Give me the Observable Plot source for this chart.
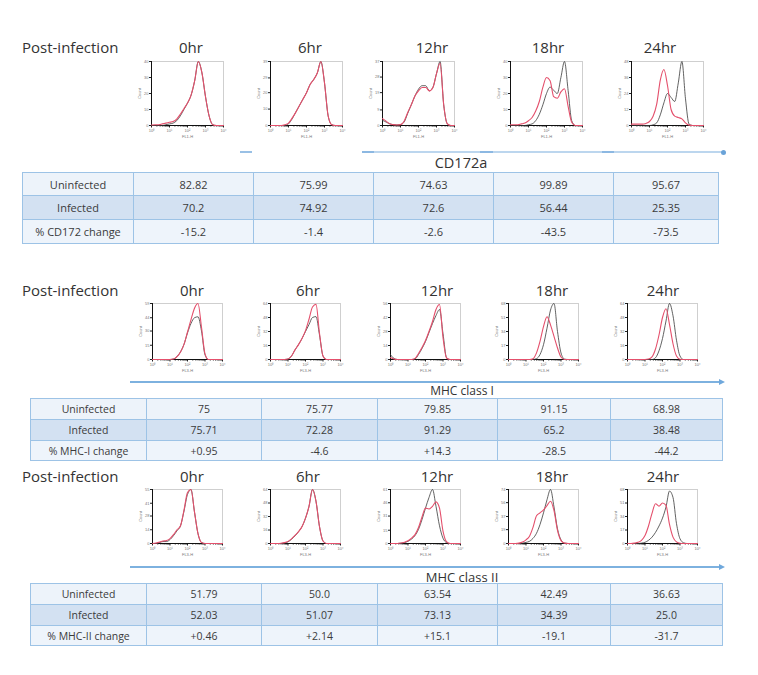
<!DOCTYPE html>
<html><head><meta charset="utf-8">
<script src="https://cdn.jsdelivr.net/npm/d3@7"></script>
<script src="https://cdn.jsdelivr.net/npm/@observablehq/plot@0.6"></script>
<style>
body{margin:0;background:#fff;}
#page{position:relative;width:758px;height:675px;overflow:hidden;font-family:"Open Sans",sans-serif;color:#333;}
.txt{position:absolute;white-space:nowrap;line-height:1;}
table{position:absolute;border-collapse:collapse;table-layout:fixed;font-family:"Open Sans",sans-serif;color:#3b3b3b;}
td{border:1px solid #9dc3e6;text-align:center;padding:0;box-sizing:border-box;}
svg{position:absolute;overflow:visible;}
</style></head><body><div id="page"></div>
<script>
// ---------- data ----------
const times = ["0hr","6hr","12hr","18hr","24hr"];
const cd172Labels = ["Uninfected","Infected","% CD172 change"];
const cd172Uninfected = ["82.82","75.99","74.63","99.89","95.67"];
const cd172Infected = ["70.2","74.92","72.6","56.44","25.35"];
const cd172Change = ["-15.2","-1.4","-2.6","-43.5","-73.5"];
const mhc1Labels = ["Uninfected","Infected","% MHC-I change"];
const mhc1Uninfected = ["75","75.77","79.85","91.15","68.98"];
const mhc1Infected = ["75.71","72.28","91.29","65.2","38.48"];
const mhc1Change = ["+0.95","-4.6","+14.3","-28.5","-44.2"];
const mhc2Labels = ["Uninfected","Infected","% MHC-II change"];
const mhc2Uninfected = ["51.79","50.0","63.54","42.49","36.63"];
const mhc2Infected = ["52.03","51.07","73.13","34.39","25.0"];
const mhc2Change = ["+0.46","+2.14","+15.1","-19.1","-31.7"];

// histogram x positions (log10 decades of fluorescence)
const logDecades = [0,0.2,0.4,0.6,0.8,1.0,1.2,1.4,1.6,1.8,2.0,2.2,2.4,2.6,2.8,3.0,3.2,3.4,3.6,3.8,4.0];
const decadeTicks = [0,1,2,3,4];

// y-axis ticks per histogram
const cd172YTicks = [[0,10,20,30,40],[0,10,20,29,39],[0,9,19,28,37],[0,10,20,30,40],[0,12,24,36,48]];
const mhc1YTicks  = [[0,15,30,44,59],[0,16,32,48,64],[0,14,28,42,56],[0,17,34,51,68],[0,16,32,48,64]];
const mhc2YTicks  = [[0,14,28,41,55],[0,16,32,48,64],[0,15,31,46,61],[0,19,37,56,74],[0,17,34,51,68]];

// CD172a (FL1-H) counts: uninfected (black) / infected (red)
const cd172Hist0U  = [0,0,0,0,0.5,1,1.5,3,6,10,14,19,28,40,33,18,6,0.5,0,0,0];
const cd172Hist0I  = [0.3,0.5,0.5,1,1.5,2,2.5,4,7,10.5,14,19,28,40,33,18,6,0.5,0,0,0];
const cd172Hist6U  = [0,0,0,0,0,1,4,8,12,16,20,25,28,32,39,26,6,0.5,0,0,0];
const cd172Hist6I  = [0,0,0,0,0.5,1.5,4.5,8,12,16,20,25,28,32,39,26,6,0.5,0,0,0];
const cd172Hist12U = [3,2,1,0.5,0.3,0.5,2,7,12,17,21,23,23,20,22,30,37,12,1,0,0];
const cd172Hist12I = [4,2.5,1,0.5,0.3,0.5,2.5,7.5,12,17,20,22,22,20,22,30,36,12,1,0,0];
const cd172Hist18U = [0,0,0,0,0,0.5,1,3,7,13,20,24,22,20,30,40,22,3,0,0,0];
const cd172Hist18I = [0.5,0.5,0.5,1,1.5,3,5,9,15,24,30,28,18,17,21,23,12,2,0,0,0];
const cd172Hist24U = [0,0,0,0,0,0,0.5,2,8,17,24,21,18,32,48,20,1,0,0,0,0];
const cd172Hist24I = [1,1,1,1,1.5,3,7,16,34,42,30,12,7,6,5,2,0.3,0,0,0,0];

// MHC class I (FL3-H)
const mhc1Hist0U  = [0,0,0,0,0,0,0.5,3,8,16,28,38,44,45,30,5,0,0,0,0,0];
const mhc1Hist0I  = [0,0,0,0,0,0,0.5,3,8,16,29,42,54,59,34,6,0,0,0,0,0];
const mhc1Hist6U  = [0,0,0,0,0,0.5,4,11,17,24,32,40,48,49,28,4,0,0,0,0,0];
const mhc1Hist6I  = [0,0,0,0,0,0.5,4,11,17,24,33,46,60,63,30,4,0,0,0,0,0];
const mhc1Hist12U = [5,1,0,0,0,0,0,0.5,5,11,18,27,36,44,50,26,2,0,0,0,0];
const mhc1Hist12I = [2,0.5,0,0,0,0,0,1,6,12,19,28,38,50,55,22,1.5,0,0,0,0];
const mhc1Hist18U = [0,0,0,0,0,0,0,0,1,6,18,38,60,68,34,8,0.5,0,0,0,0];
const mhc1Hist18I = [0,0,0,0,0,0,0,1,8,22,40,52,42,28,14,3,0,0,0,0,0];
const mhc1Hist24U = [0,0,0,0,0,0,0,0,2,10,24,44,64,50,22,4,0,0,0,0,0];
const mhc1Hist24I = [0,0,0,0,0,0,0.5,3,12,28,48,58,40,18,4,0.3,0,0,0,0,0];

// MHC class II (FL3-H)
const mhc2Hist0U  = [0,0,1,2,2,4,8,13,18,33,50,55,32,10,1,0,0,0,0,0,0];
const mhc2Hist0I  = [0,0.5,1.5,2.5,3,5,9,14,18,34,52,55,32,10,1,0,0,0,0,0,0];
const mhc2Hist6U  = [0,0,0,0,0.5,2,5,9,14,20,30,44,64,50,20,3,0,0,0,0,0];
const mhc2Hist6I  = [0,0,0,0.3,1,2.5,5.5,9.5,14,20,30,44,64,50,20,3,0,0,0,0,0];
const mhc2Hist12U = [0,0,0,0.3,1,2.5,5,9,16,27,40,52,61,42,20,6,1,0,0,0,0];
const mhc2Hist12I = [0,0,0,0.5,1.5,3,6,10,18,30,40,39,42,47,40,14,2,0,0,0,0];
const mhc2Hist18U = [0,0,0,0,0.5,1.5,3,7,14,26,42,60,74,50,20,5,0.5,0,0,0,0];
const mhc2Hist18I = [0,0,0,0.5,2,5,10,22,38,42,46,52,58,45,18,4,0.5,0,0,0,0];
const mhc2Hist24U = [0,0,0,0,0.5,1.5,4,8,14,22,32,46,66,58,25,6,1,0,0,0,0];
const mhc2Hist24I = [0,0,0.5,1.5,4,10,22,38,50,47,51,48,24,8,2,0.3,0,0,0,0,0];

// ---------- layout helpers ----------
const page = document.getElementById("page");
const sup = ["\u2070","\u00b9","\u00b2","\u00b3","\u2074"];
const minorTicks = decadeTicks.slice(0,4).flatMap(n => [2,3,4,5,6,7,8,9].map(k => n + Math.log10(k)));

function text(str, x, y, size, anchor = "middle", extra = {}) {
  const d = document.createElement("div");
  d.className = "txt";
  d.textContent = str;
  d.style.fontSize = size + "px";
  d.style.left = x + "px";
  d.style.top = y + "px";
  d.style.transform = anchor === "middle" ? "translate(-50%,-50%)" : "translate(0,-50%)";
  Object.assign(d.style, extra);
  page.appendChild(d);
}

function histogram(unin, inf, yTicks, xLabel, left, top, w, h) {
  const ymax = yTicks[yTicks.length - 1];
  const u = logDecades.map((x, i) => ({x, y: unin[i]}));
  const f = logDecades.map((x, i) => ({x, y: inf[i]}));
  const ml = 18, mt = 3;
  const svg = Plot.plot({
    width: w + ml + 6, height: h + mt + 17,
    marginLeft: ml, marginRight: 6, marginTop: mt, marginBottom: 17,
    style: {fontFamily: "Liberation Sans, sans-serif", fontSize: "4px", color: "#777", background: "transparent", overflow: "visible"},
    x: {domain: [0, 4]},
    y: {domain: [0, ymax]},
    marks: [
      Plot.frame({stroke: "#c4c4c4", strokeWidth: 0.8}),
      Plot.axisX({ticks: minorTicks, tickSize: 1.5, tickFormat: () => "", label: null, stroke: "#222"}),
      Plot.axisX({ticks: decadeTicks, tickSize: 2.5, tickPadding: 1, tickFormat: d => "10" + sup[d], label: xLabel, labelAnchor: "center", labelOffset: 12, labelArrow: "none", stroke: "#222"}),
      Plot.axisY({ticks: yTicks, tickSize: 2, tickPadding: 1, label: "Count", labelAnchor: "center", labelOffset: 13, labelArrow: "none", stroke: "#222"}),
      Plot.ruleY([0], {stroke: "#111", strokeWidth: 1}),
      Plot.ruleX([0], {stroke: "#111", strokeWidth: 1}),
      Plot.line(u, {x: "x", y: "y", stroke: "#3a3a3a", strokeWidth: 0.8, curve: "monotone-x"}),
      Plot.line(f, {x: "x", y: "y", stroke: "#e4506c", strokeWidth: 1.1, curve: "monotone-x"})
    ]
  });
  svg.style.left = (left - ml) + "px";
  svg.style.top = (top - mt) + "px";
  page.appendChild(svg);
}

function hline(x1, x2, y, color, thick, opacity = 1) {
  const d = document.createElement("div");
  Object.assign(d.style, {position: "absolute", left: x1 + "px", top: (y - thick / 2) + "px", width: (x2 - x1) + "px", height: thick + "px", background: color, opacity});
  page.appendChild(d);
}
function arrowHead(x, y, color) {
  const d = document.createElement("div");
  Object.assign(d.style, {position: "absolute", left: (x - 5) + "px", top: (y - 3) + "px", width: 0, height: 0,
    borderTop: "3px solid transparent", borderBottom: "3px solid transparent", borderLeft: "6px solid " + color});
  page.appendChild(d);
}
function dot(x, y, color) {
  const d = document.createElement("div");
  Object.assign(d.style, {position: "absolute", left: (x - 2.5) + "px", top: (y - 2.5) + "px", width: "5px", height: "5px", borderRadius: "50%", background: color});
  page.appendChild(d);
}

const rowBg = ["#edf3fa", "#d3e1f2", "#eef4fb"];
function table(left, top, widths, heights, labels, rowsData, fontSize) {
  const t = document.createElement("table");
  t.style.left = left + "px";
  t.style.top = top + "px";
  t.style.width = widths.reduce((a, b) => a + b, 0) + "px";
  t.style.fontSize = fontSize + "px";
  const cg = document.createElement("colgroup");
  widths.forEach(w => { const c = document.createElement("col"); c.style.width = w + "px"; cg.appendChild(c); });
  t.appendChild(cg);
  rowsData.forEach((vals, i) => {
    const tr = document.createElement("tr");
    tr.style.background = rowBg[i];
    [labels[i], ...vals].forEach(v => {
      const td = document.createElement("td");
      td.textContent = v;
      td.style.height = heights[i] + "px";
      tr.appendChild(td);
    });
    t.appendChild(tr);
  });
  page.appendChild(t);
}

// ---------- panel 1: CD172a ----------
text("Post-infection", 22, 47, 15, "start");
[191, 310, 432, 548, 660].forEach((x, i) => text(times[i], x, 47, 15));
const p1Left = [151, 270, 382, 510, 631];
const cdU = [cd172Hist0U, cd172Hist6U, cd172Hist12U, cd172Hist18U, cd172Hist24U];
const cdI = [cd172Hist0I, cd172Hist6I, cd172Hist12I, cd172Hist18I, cd172Hist24I];
p1Left.forEach((l, i) => histogram(cdU[i], cdI[i], cd172YTicks[i], "FL1-H", l, 61, 72, 64));
hline(240, 252, 152, "#7fb0de", 2, 0.8);
hline(362, 722, 152, "#bcd6ee", 1.2, 1);
hline(362, 374, 152, "#7fb0de", 2, 0.8);
hline(480, 493, 152, "#7fb0de", 2, 0.8);
hline(602, 614, 152, "#7fb0de", 2, 0.8);
dot(723, 152, "#6aa3d8");
text("CD172a", 461, 163, 14.5);
table(22, 172, [111, 120, 120, 120, 120, 105], [23, 24, 24], cd172Labels,
  [cd172Uninfected, cd172Infected, cd172Change], 11);

// ---------- panel 2: MHC class I ----------
text("Post-infection", 22, 290, 15, "start");
[192, 308, 437, 552, 663].forEach((x, i) => text(times[i], x, 290, 15));
const p2Left = [152, 270, 390, 508, 627];
const m1U = [mhc1Hist0U, mhc1Hist6U, mhc1Hist12U, mhc1Hist18U, mhc1Hist24U];
const m1I = [mhc1Hist0I, mhc1Hist6I, mhc1Hist12I, mhc1Hist18I, mhc1Hist24I];
p2Left.forEach((l, i) => histogram(m1U[i], m1I[i], mhc1YTicks[i], "FL3-H", l, 303, 70, 56));
hline(130, 720, 382, "#6fa8dc", 1.5, 0.9);
arrowHead(724, 382, "#6fa8dc");
text("MHC class I", 462, 391, 12);
table(30, 398, [116, 115, 116, 120, 113, 112], [21, 21, 20], mhc1Labels,
  [mhc1Uninfected, mhc1Infected, mhc1Change], 10.5);

// ---------- panel 3: MHC class II ----------
text("Post-infection", 22, 476, 15, "start");
[192, 308, 437, 552, 663].forEach((x, i) => text(times[i], x, 476, 15));
const m2U = [mhc2Hist0U, mhc2Hist6U, mhc2Hist12U, mhc2Hist18U, mhc2Hist24U];
const m2I = [mhc2Hist0I, mhc2Hist6I, mhc2Hist12I, mhc2Hist18I, mhc2Hist24I];
p2Left.forEach((l, i) => histogram(m2U[i], m2I[i], mhc2YTicks[i], "FL3-H", l, 489, 70, 54));
hline(130, 720, 567, "#6fa8dc", 1.5, 0.9);
arrowHead(724, 567, "#6fa8dc");
text("MHC class II", 462, 577, 13);
table(30, 583, [116, 115, 116, 120, 113, 112], [21, 21, 20], mhc2Labels,
  [mhc2Uninfected, mhc2Infected, mhc2Change], 10.5);
</script></body></html>
